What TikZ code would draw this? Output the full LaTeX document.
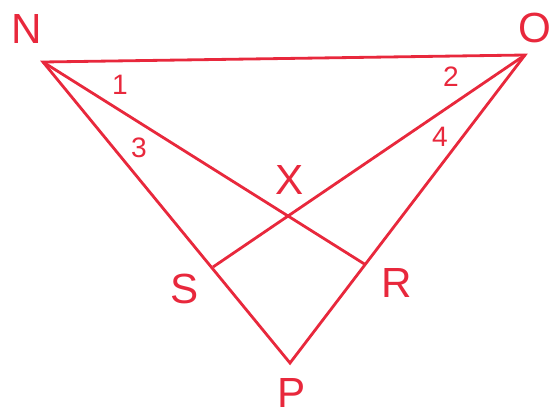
\documentclass[tikz,border=0pt]{standalone}
\usepackage{fontspec}
\setsansfont{Liberation Sans}
\usetikzlibrary{positioning,calc}
\definecolor{figred}{RGB}{232,40,60}

\begin{document}
\begin{tikzpicture}[x=0.02cm,y=-0.02cm,
  every node/.style={text=figred,font=\sffamily},
  ptlab/.style={font=\sffamily\fontsize{24}{24}\selectfont},
  anglab/.style={font=\sffamily\fontsize{16}{16}\selectfont},
  edge/.style={draw=figred,line width=1.6pt,line join=miter}]
\useasboundingbox (0,0) rectangle (554,419);
% vertices
\coordinate (N) at (43,62);
\coordinate (O) at (525,55);
\coordinate (P) at (290,363);
\coordinate (S) at (213,267);
\coordinate (R) at (366,265);
\coordinate (X) at (290,214);
% triangle and the two cevians
\draw[edge] (N) -- (O) -- (P) -- cycle;
\draw[edge] (N) -- (R);
\draw[edge] (O) -- (S);
% point labels
\node[ptlab] (lN) at (27,29) {N};
\node[ptlab] (lO) at (535,28) {O};
\node[ptlab] (lX) at (290,180) {X};
\node[ptlab] (lS) at (185,289) {S};
\node[ptlab] (lR) at (397,283) {R};
\node[ptlab] (lP) at (292,393) {P};
% angle numbers
\node[anglab] (a1) at (120,85) {1};
\node[anglab] (a2) at (451,77) {2};
\node[anglab] (a3) at (139,148) {3};
\node[anglab] (a4) at (440,137) {4};
\end{tikzpicture}
\end{document}
